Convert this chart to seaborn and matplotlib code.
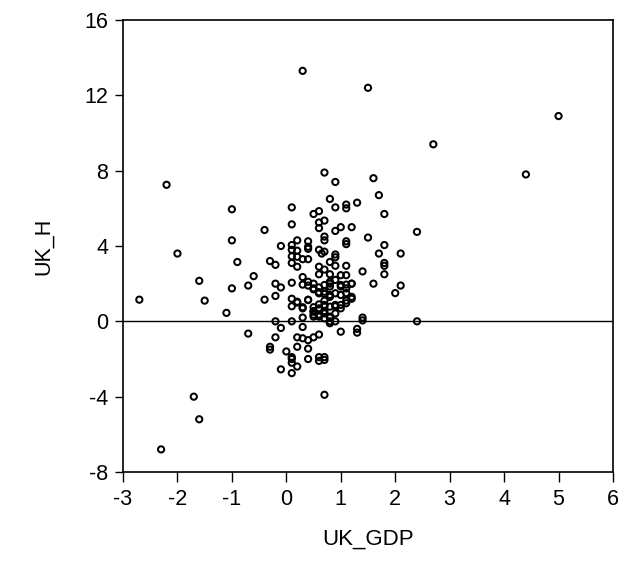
import matplotlib
matplotlib.use("Agg")
import matplotlib.pyplot as plt
import seaborn as sns
import pandas as pd

uk_gdp = [
    0.3, 1.5, 5.0, 2.7, 4.4, -2.2, 0.7, 0.9, 1.6, 1.7, 0.8, 1.3, 1.1, 1.1, 0.1, 0.9,
    -1.0, 0.5, 0.6, 1.8, 0.1, 0.6, 0.7, 0.6, 1.0, 1.2, 0.9, -0.4, 2.4, -1.0, 1.5, 0.7,
    0.7, 0.2, 0.4, 1.1, 1.1, 1.8, -0.1, 0.1, -2.0, 0.1, 0.2, 0.4, 0.6, 0.7, 0.65, 0.9,
    0.9, 1.7, 2.1, 0.1, 0.3, 0.4, -0.9, -0.3, -0.2, 0.1, 0.2, 0.6, 0.8, 0.9, 1.1, 1.8,
    1.8, 1.8, 1.4, 0.7, 0.6, 0.8, 1.0, 1.1, -0.6, -1.6, 0.3, 0.4, 0.5, 0.3, 0.4, 0.1,
    -0.2, -0.1, -0.7, -1.0, 0.6, 0.8, 0.8, 1.0, 1.1, 1.2, 1.6, 2.1, 2.0, 0.5, 0.6, 0.7,
    0.8, 1.0, 1.1, 1.2, 1.2, -0.2, -0.4, -2.7, -1.5, 0.1, 0.2, 0.4, 0.1, 0.3, 0.5, 0.5,
    0.5, 0.6, 0.6, 0.6, 0.7, 0.7, 0.7, 0.9, 1.1, -1.1, 0.3, 0.8, 0.8, 0.8, 0.9, 1.4,
    1.4, 2.4, -0.2, 0.1, -0.1, 0.3, 1.0, 1.3, 1.3, -0.7, -0.2, 0.2, 0.3, 0.4, 0.5, 0.6,
    -0.3, -0.3, 0.2, 0.4, 0.0, 0.1, 0.1, 0.1, 0.4, 0.6, 0.6, 0.7, 0.7, 0.2, -0.1, 0.1,
    0.7, -1.7, -1.6, -2.3,
    0.4, 0.5, 0.7, 0.8, 0.9, 1.0, 1.1, 1.2, 0.2, 0.3, 0.5, 0.6, 0.7, 0.8, 0.9, 1.0,
    1.1, 0.5, 0.6, 0.7, 0.6, 0.7, 0.8, 0.9, 0.6, 0.7, 0.8, 0.9, 1.0, 0.2, 0.4,
]
uk_h = [
    13.3, 12.4, 10.9, 9.4, 7.8, 7.25, 7.9, 7.4, 7.6, 6.7, 6.5, 6.3, 6.2, 6.0, 6.05, 6.05,
    5.95, 5.7, 5.85, 5.7, 5.15, 5.25, 5.35, 4.95, 5.0, 5.0, 4.8, 4.85, 4.75, 4.3, 4.45, 4.5,
    4.3, 4.3, 4.25, 4.25, 4.1, 4.05, 4.0, 4.05, 3.6, 3.8, 3.75, 3.85, 3.8, 3.7, 3.6, 3.55,
    3.4, 3.6, 3.6, 3.45, 3.3, 3.3, 3.15, 3.2, 3.0, 3.1, 2.9, 2.9, 3.15, 2.95, 2.95, 3.1,
    2.95, 2.5, 2.65, 2.75, 2.5, 2.5, 2.45, 2.45, 2.4, 2.15, 2.35, 2.1, 2.0, 1.95, 1.9, 2.05,
    2.0, 1.8, 1.9, 1.75, 1.8, 2.0, 1.85, 1.85, 1.95, 2.0, 2.0, 1.9, 1.5, 1.7, 1.55, 1.45,
    1.3, 1.4, 1.5, 1.3, 1.2, 1.35, 1.15, 1.15, 1.1, 1.2, 1.0, 1.15, 0.8, 0.75, 0.75, 0.55,
    0.35, 0.9, 0.65, 0.35, 1.1, 0.8, 0.55, 0.8, 1.1, 0.45, 0.2, 0.2, 0.0, -0.1, 0.0, 0.2,
    0.05, 0.0, 0.0, 0.0, -0.35, -0.3, -0.55, -0.4, -0.6, -0.65, -0.85, -0.85, -0.9, -1.0, -0.85, -0.7,
    -1.35, -1.5, -1.35, -1.45, -1.6, -1.9, -2.0, -2.2, -2.0, -1.9, -2.1, -1.9, -2.05, -2.4, -2.55, -2.75,
    -3.9, -4.0, -5.2, -6.8,
    1.13, 1.75, 1.93, 2.1, 2.2, 1.93, 1.75, 2.0, 1.04, 0.69, 0.51, 0.69, 0.87, 0.78, 0.87, 0.87,
    0.96, 0.25, 0.35, 0.42, 1.49, 1.57, 1.4, 1.49, 0.25, 0.16, 0.25, 0.42, 0.69, 3.43, 3.96,
]

df = pd.DataFrame({"UK_GDP": uk_gdp, "UK_H": uk_h})

sns.set_theme(style="white")
plt.rcParams["font.family"] = ["Liberation Sans", "DejaVu Sans"]
plt.rcParams["axes.unicode_minus"] = False

fig = plt.figure(figsize=(6.33, 5.78), dpi=100)
ax = fig.add_axes([123 / 633, 1 - 472 / 578, 490 / 633, 452 / 578])

sns.scatterplot(data=df, x="UK_GDP", y="UK_H", ax=ax, marker="o", s=20,
                color="black", edgecolor="black", linewidth=1.45, legend=False)
ax.collections[0].set_facecolor("none")
ax.axhline(0, color="black", linewidth=1.0, zorder=0)

ax.set_xlim(-3, 6)
ax.set_ylim(-8, 16)
ax.set_xticks(range(-3, 7))
ax.set_yticks(range(-8, 17, 4))
ax.tick_params(direction="out", width=1, colors="black", labelsize=15.5,
               bottom=True, left=True, top=False, right=False)
ax.tick_params(axis="x", length=7, pad=5)
ax.tick_params(axis="y", length=5.5, pad=5)
for sp in ax.spines.values():
    sp.set_color("black")
    sp.set_linewidth(1.2)
    sp.set_visible(True)

ax.set_xlabel("UK_GDP", fontsize=16, color="black", labelpad=14)
ax.set_ylabel("UK_H", fontsize=15.5, color="black", labelpad=22)

fig.savefig("out.png", dpi=100)
